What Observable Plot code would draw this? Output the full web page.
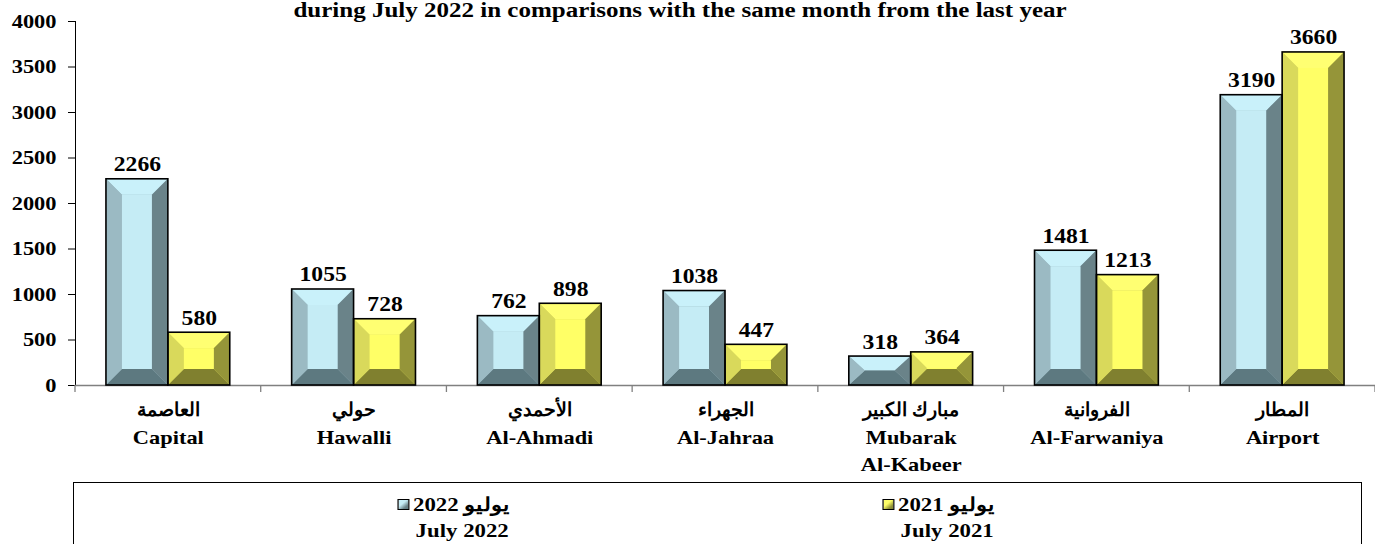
<!DOCTYPE html>
<html>
<head>
<meta charset="utf-8">
<script src="https://cdn.jsdelivr.net/npm/d3@7"></script>
<script src="https://cdn.jsdelivr.net/npm/@observablehq/plot@0.6"></script>
<style>
  body { margin: 0; background: #fff; }
  #wrap { position: relative; width: 1375px; height: 544px; overflow: hidden; background: #fff;
          font-family: "Liberation Serif", "Times New Roman", "DejaVu Serif", serif; color: #000; }
  #chart { position: absolute; left: 0; top: 0; }
  #title { position: absolute; top: 0px; left: 0; width: 1360px; text-align: center;
           font-weight: bold; font-size: 20px; line-height: 20px; white-space: nowrap;
           transform: scaleX(1.25); transform-origin: 680px 50%; }
  #legend { position: absolute; left: 73px; top: 482px; width: 1289px; height: 80px;
            border: 1.5px solid #000; box-sizing: border-box; }
  .entry { position: absolute; top: 9px; text-align: right; font-weight: bold; font-size: 19px; line-height: 26px;
           transform: scaleX(1.2); transform-origin: 100% 50%; }
  .sw { display: inline-block; width: 8px; height: 9px; border: 1px solid #000; margin-right: 3px; vertical-align: 1px; }
</style>
</head>
<body>
<div id="wrap">
  <div id="chart"></div>
  <div id="title"></div>
  <div id="legend"></div>
</div>
<script>
// ---- data ----
const titleText = "during July 2022 in comparisons with the same month from the last year";
const categories = ["Capital", "Hawalli", "Al-Ahmadi", "Al-Jahraa", "Mubarak Al-Kabeer", "Al-Farwaniya", "Airport"];
const arabicNames = ["العاصمة", "حولي", "الأحمدي", "الجهراء", "مبارك الكبير", "الفروانية", "المطار"];
const englishLabels = ["Capital", "Hawalli", "Al-Ahmadi", "Al-Jahraa", "Mubarak\nAl-Kabeer", "Al-Farwaniya", "Airport"];
const seriesNames = ["July 2022", "July 2021"];
const seriesArabic = ["يوليو 2022", "يوليو 2021"];
const values2022 = [2266, 1055, 762, 1038, 318, 1481, 3190];
const values2021 = [580, 728, 898, 447, 364, 1213, 3660];
const yTicks = [0, 500, 1000, 1500, 2000, 2500, 3000, 3500, 4000];

// ---- styling ----
const palettes = [
  {base: "#9bbac3", top: "#c9f1fa", center: "#c5ecf5", left: "#9bbac3", right: "#6a8389", bottom: "#5d7980"},
  {base: "#d9d95b", top: "#ffff72", center: "#ffff66", left: "#d9d95b", right: "#959539", bottom: "#80802f"}
];
const W = 1375, H = 480, mL = 75, mR = 0, mT = 21, mB = 95;
const bw = (W - mL - mR) / categories.length;
const labelTop = 17, labelStep = 27.5;

const rows2022 = categories.map((c, i) => ({cat: c, k: 0, value: values2022[i]}));
const rows2021 = categories.map((c, i) => ({cat: c, k: 1, value: values2021[i]}));
const allRows = rows2022.concat(rows2021);
const engLine = n => (d, i) => (englishLabels[i].split("\n")[n] || "");

function bevels(index, scales) {
  const g = d3.create("svg:g");
  try {
    const x = scales.x, y = scales.y;
    const bwid = typeof x.bandwidth === "function" ? x.bandwidth() : x.bandwidth;
    const y0 = y(0);
    for (let i = 0; i <= categories.length; i++) {
      const xs = i < categories.length ? x(categories[i]) : x(categories[i - 1]) + bwid;
      g.append("line").attr("x1", xs).attr("x2", xs).attr("y1", y0).attr("y2", y0 + 7)
        .attr("stroke", "#808080").attr("stroke-width", 1.3);
    }
    for (const r of allRows) {
      const p = palettes[r.k];
      const x0 = x(r.cat) + bwid / 6 + r.k * bwid / 3;
      const x1 = x0 + bwid / 3;
      const y1 = y(r.value);
      const bx = Math.min(16, (x1 - x0) / 2), by = Math.min(16, (y0 - y1) / 2);
      const poly = (pts, fill) => g.append("polygon").attr("points", pts.map(q => q.join(",")).join(" ")).attr("fill", fill);
      poly([[x0, y1], [x1, y1], [x1 - bx, y1 + by], [x0 + bx, y1 + by]], p.top);
      poly([[x0, y0], [x1, y0], [x1 - bx, y0 - by], [x0 + bx, y0 - by]], p.bottom);
      poly([[x0, y1], [x0 + bx, y1 + by], [x0 + bx, y0 - by], [x0, y0]], p.left);
      poly([[x1, y1], [x1 - bx, y1 + by], [x1 - bx, y0 - by], [x1, y0]], p.right);
      if (y0 - by > y1 + by)
        g.append("rect").attr("x", x0 + bx).attr("y", y1 + by).attr("width", x1 - x0 - 2 * bx)
          .attr("height", y0 - y1 - 2 * by).attr("fill", p.center);
    }
  } catch (e) { console.error(e); }
  return g.node();
}

const textOpts = {frameAnchor: "bottom", lineAnchor: "top", fontSize: 19, fontWeight: "bold", fill: "#000"};

const plot = Plot.plot({
  width: W, height: H,
  marginLeft: mL, marginRight: mR, marginTop: mT, marginBottom: mB,
  style: {fontFamily: "'Liberation Serif', 'Times New Roman', serif", fontSize: "19px", fontWeight: "bold", color: "#000", background: "#fff"},
  x: {domain: categories, padding: 0, round: false, axis: null},
  y: {domain: [0, 4000], ticks: yTicks, tickSize: 7, tickPadding: 12, tickFormat: d => String(d), line: true, label: null},
  marks: [
    Plot.ruleY([0], {stroke: "#808080", strokeWidth: 1.5}),
    Plot.barY(rows2022, {x: "cat", y: "value", fill: palettes[0].base, insetLeft: bw / 6, insetRight: bw / 2}),
    Plot.barY(rows2021, {x: "cat", y: "value", fill: palettes[1].base, insetLeft: bw / 2, insetRight: bw / 6}),
    bevels,
    Plot.barY(rows2022, {x: "cat", y: "value", fill: "none", stroke: "#000", strokeWidth: 1.6, insetLeft: bw / 6, insetRight: bw / 2}),
    Plot.barY(rows2021, {x: "cat", y: "value", fill: "none", stroke: "#000", strokeWidth: 1.6, insetLeft: bw / 2, insetRight: bw / 6}),
    Plot.text(rows2022, {x: "cat", y: "value", text: d => String(d.value), dx: -bw / 6, dy: -8, lineAnchor: "bottom", fontSize: 20, fontWeight: "bold", fill: "#000"}),
    Plot.text(rows2021, {x: "cat", y: "value", text: d => String(d.value), dx: bw / 6, dy: -8, lineAnchor: "bottom", fontSize: 20, fontWeight: "bold", fill: "#000"}),
    Plot.text(categories, {...textOpts, x: d => d, dy: labelTop, text: (d, i) => arabicNames[i]}),
    Plot.text(categories, {...textOpts, x: d => d, dy: labelTop + labelStep, text: engLine(0)}),
    Plot.text(categories, {...textOpts, x: d => d, dy: labelTop + 2 * labelStep, text: engLine(1)})
  ]
});
document.getElementById("chart").appendChild(plot);

// widen Latin glyphs to match the reference's wide bold serif face
const svg = document.querySelector("#chart svg");
svg.querySelectorAll("text").forEach(t => {
  const s = t.textContent;
  if (!s || !/^[\x00-\x7F]+$/.test(s) || t.querySelector("tspan")) return;
  const len = t.getComputedTextLength();
  if (len > 0) { t.setAttribute("textLength", (len * 1.18).toFixed(1)); t.setAttribute("lengthAdjust", "spacingAndGlyphs"); }
});

document.getElementById("title").textContent = titleText;

const legend = document.getElementById("legend");
const legendRight = [510, 995];
seriesNames.forEach((s, i) => {
  const e = document.createElement("div");
  e.className = "entry";
  e.style.right = (73 + 1289 - legendRight[i]) + "px";
  const p = palettes[i];
  e.innerHTML = `<div><span class="sw" style="background:linear-gradient(135deg, ${p.top} 0%, ${p.center} 40%, ${p.right} 75%, ${p.bottom} 100%)"></span><span dir="rtl">${seriesArabic[i]}</span></div><div>${s}</div>`;
  legend.appendChild(e);
});
</script>
</body>
</html>
